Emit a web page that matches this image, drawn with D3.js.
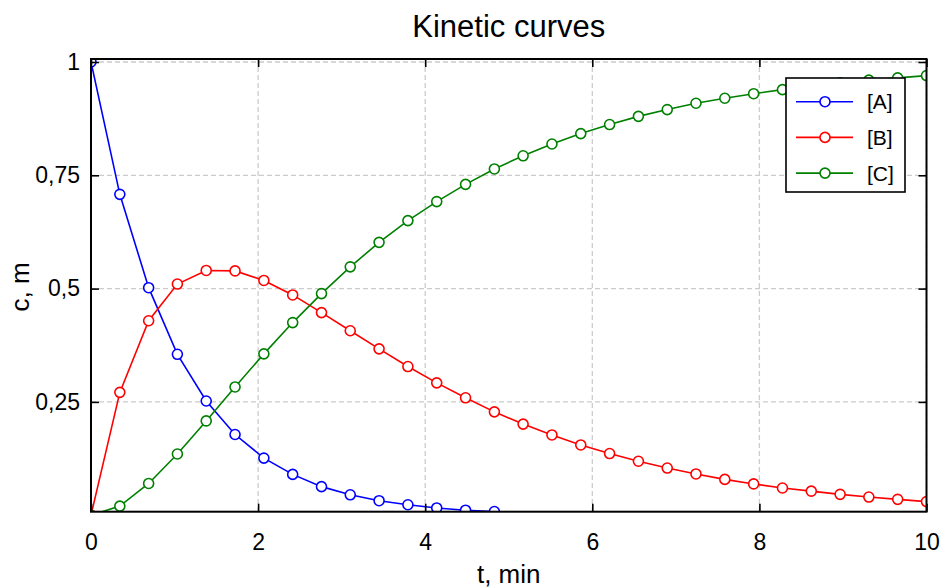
<!DOCTYPE html>
<html><head><meta charset="utf-8">
<script src="https://cdn.jsdelivr.net/npm/d3@7"></script>
<style>body{margin:0;background:#fff}svg{display:block}text{font-family:"Liberation Sans",Arial,sans-serif;fill:#000}</style>
</head><body>
<svg id="c" width="940" height="588"></svg>
<script>
const tValues = [0,0.345,0.690,1.034,1.379,1.724,2.069,2.414,2.759,3.103,3.448,3.793,4.138,4.483,4.828,5.172,5.517,5.862,6.207,6.552,6.897,7.241,7.586,7.931,8.276,8.621,8.966,9.310,9.655,10];
const seriesA = [1,0.708,0.502,0.355,0.252,0.178,0.126,0.090,0.063,0.045,0.032,0.023,0.016,0.011,0.008];
const seriesB = [0,0.271,0.429,0.510,0.540,0.539,0.518,0.486,0.447,0.407,0.367,0.328,0.292,0.259,0.228,0.201,0.177,0.155,0.136,0.119,0.104,0.091,0.079,0.069,0.060,0.053,0.046,0.040,0.035,0.030];
const seriesC = [0,0.020,0.070,0.135,0.208,0.283,0.356,0.425,0.489,0.548,0.602,0.650,0.692,0.730,0.764,0.793,0.819,0.842,0.862,0.880,0.895,0.909,0.920,0.930,0.939,0.947,0.954,0.960,0.965,0.970];
const seriesNames = ["[A]","[B]","[C]"];
const seriesColors = ["#0000ff","#ff0000","#008000"];
const xTicks = [0,2,4,6,8,10];
const yTicks = [0.25,0.5,0.75,1];
const yTickLabels = ["0,25","0,5","0,75","1"];
const title = "Kinetic curves", xLabel = "t, min", yLabel = "c, m";

const svg = d3.select("#c");
const L=91,R=926.5,T=59,B=511.7;
const x = d3.scaleLinear().domain([0,10]).range([L,R]);
const y = d3.scaleLinear().domain([0.0077,1.0066]).range([B,T]);

svg.append("defs").append("clipPath").attr("id","clip").append("rect")
  .attr("x",L).attr("y",T).attr("width",R-L).attr("height",B-T);

// grid
const grid = svg.append("g").attr("stroke","#cccccc").attr("stroke-width",1.3).attr("stroke-dasharray","5,3");
grid.selectAll(".gx").data(xTicks).join("line").attr("x1",d=>x(d)).attr("x2",d=>x(d)).attr("y1",T).attr("y2",B);
grid.selectAll(".gy").data(yTicks).join("line").attr("y1",d=>y(d)).attr("y2",d=>y(d)).attr("x1",L).attr("x2",R);

// series
const all = [seriesA,seriesB,seriesC];
const plot = svg.append("g").attr("clip-path","url(#clip)");
all.forEach((s,k)=>{
  const pts = s.map((v,i)=>[tValues[i],v]);
  plot.append("path").datum(pts).attr("fill","none").attr("stroke",seriesColors[k]).attr("stroke-width",1.6)
    .attr("d",d3.line().x(d=>x(d[0])).y(d=>y(d[1])));
  plot.selectAll(null).data(pts).join("circle").attr("cx",d=>x(d[0])).attr("cy",d=>y(d[1])).attr("r",5)
    .attr("fill","#fff").attr("stroke",seriesColors[k]).attr("stroke-width",1.6);
});

// axes with inward ticks on all sides
const tl = 8;
const axB = svg.append("g").attr("transform",`translate(0,${B})`).call(d3.axisBottom(x).tickValues(xTicks).tickSizeInner(-tl).tickSizeOuter(0).tickPadding(22));
const axT = svg.append("g").attr("transform",`translate(0,${T})`).call(d3.axisTop(x).tickValues(xTicks).tickSizeInner(-tl).tickSizeOuter(0).tickFormat(""));
const axL = svg.append("g").attr("transform",`translate(${L},0)`).call(d3.axisLeft(y).tickValues(yTicks).tickSizeInner(-tl).tickSizeOuter(0).tickPadding(11).tickFormat((d,i)=>yTickLabels[i]));
const axR = svg.append("g").attr("transform",`translate(${R},0)`).call(d3.axisRight(y).tickValues(yTicks).tickSizeInner(-tl).tickSizeOuter(0).tickFormat(""));
[axB,axT,axL,axR].forEach(a=>{a.select(".domain").remove();a.selectAll(".tick line").attr("stroke","#000").attr("stroke-width",1.6);a.selectAll("text").attr("font-size",23).attr("font-family","Liberation Sans, Arial, sans-serif").attr("fill","#000");});

// frame
svg.append("rect").attr("x",L).attr("y",T).attr("width",R-L).attr("height",B-T).attr("fill","none").attr("stroke","#000").attr("stroke-width",2);

// titles
svg.append("text").attr("x",(L+R)/2).attr("y",37).attr("text-anchor","middle").attr("font-size",31).text(title);
svg.append("text").attr("x",(L+R)/2).attr("y",583).attr("text-anchor","middle").attr("font-size",26).text(xLabel);
svg.append("text").attr("transform",`translate(29,287) rotate(-90)`).attr("text-anchor","middle").attr("font-size",26).text(yLabel);

// legend
const lg = svg.append("g");
lg.append("rect").attr("x",786).attr("y",78).attr("width",119).attr("height",114).attr("fill","#fff").attr("stroke","#000").attr("stroke-width",1.6);
seriesNames.forEach((n,k)=>{
  const yy = 101.7 + k*35.7;
  lg.append("line").attr("x1",796).attr("x2",853).attr("y1",yy).attr("y2",yy).attr("stroke",seriesColors[k]).attr("stroke-width",1.6);
  lg.append("circle").attr("cx",825).attr("cy",yy).attr("r",5).attr("fill","#fff").attr("stroke",seriesColors[k]).attr("stroke-width",1.6);
  lg.append("text").attr("x",867).attr("y",yy).attr("dy","0.36em").attr("font-size",21).text(n);
});
</script>
</body></html>
